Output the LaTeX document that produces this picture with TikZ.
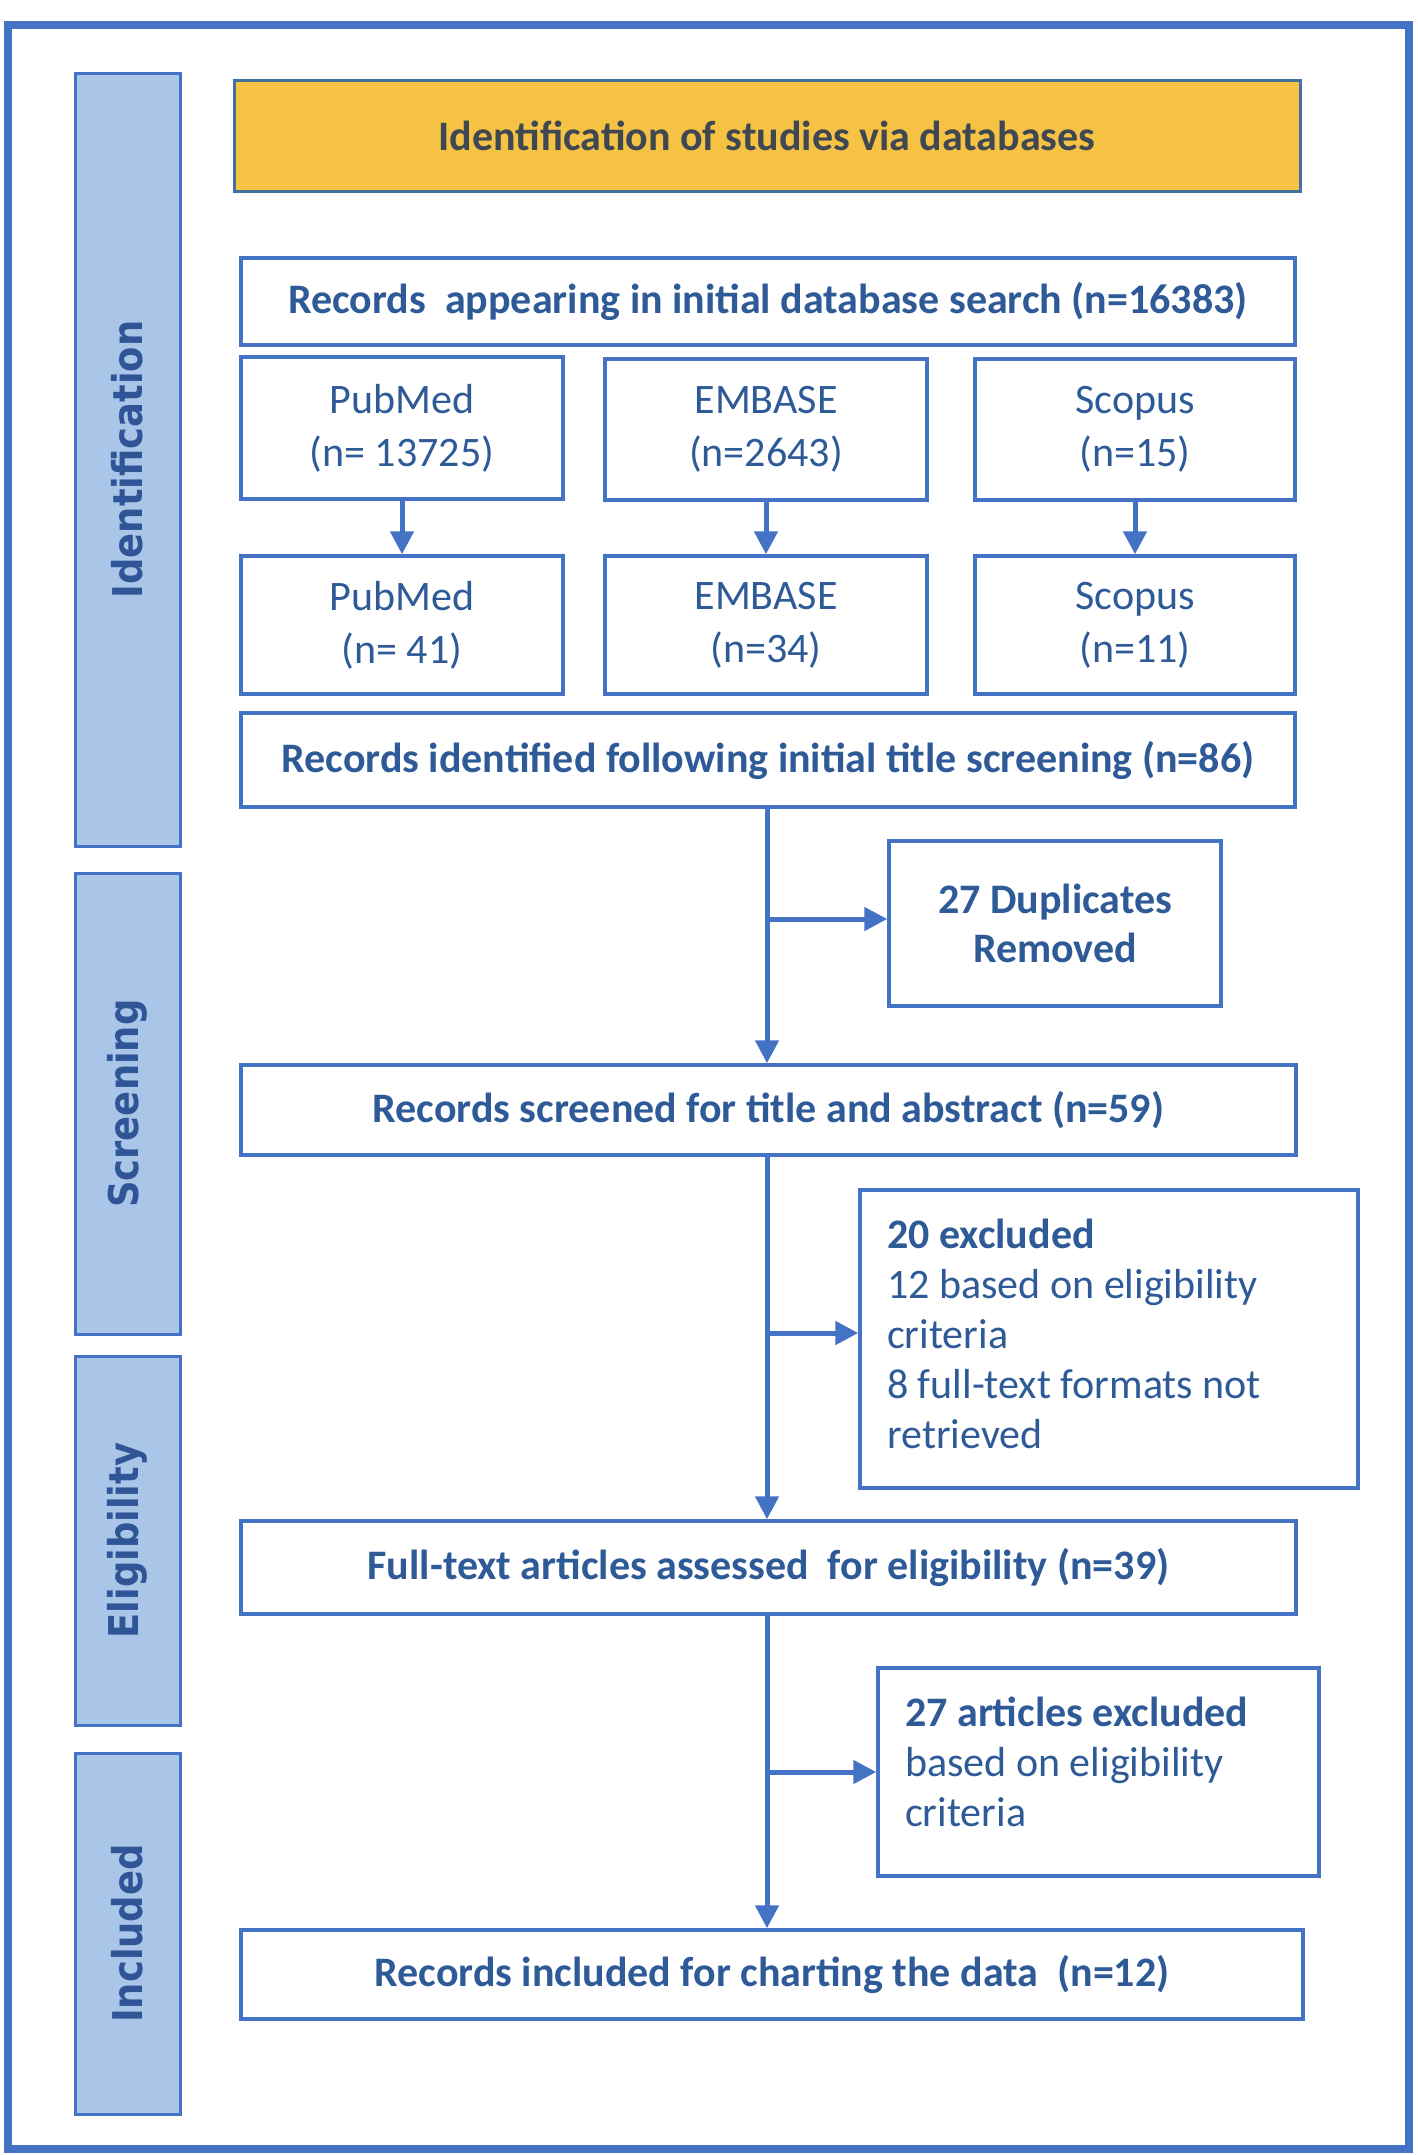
\documentclass[tikz,border=0pt]{standalone}
\usepackage{fontspec}
\setmainfont{Carlito}
\newfontfamily\bandfont{DejaVu Sans}
\usetikzlibrary{arrows.meta}
\definecolor{framecol}{HTML}{4472C4}
\definecolor{boxcol}{HTML}{4472C4}
\definecolor{bandfill}{HTML}{A9C5E8}
\definecolor{bandtext}{HTML}{2F5597}
\definecolor{txt}{HTML}{2E5A98}
\definecolor{titletext}{HTML}{3F4752}
\definecolor{titlefill}{HTML}{F5C243}
\definecolor{titleborder}{HTML}{41719C}
\begin{document}
\begin{tikzpicture}[x=1pt,y=-1pt,
  box/.style={draw=boxcol, line width=3.5pt, fill=white, inner sep=0pt, align=center, text=txt},
  bold/.style={font=\bfseries\fontsize{42}{50}\selectfont},
  reg/.style={font=\fontsize{42}{53}\selectfont},
  band/.style={draw=boxcol, line width=3pt, fill=bandfill, inner sep=0pt},
  bandlabel/.style={rotate=90, text=bandtext, inner sep=0pt, font=\bandfont\bfseries\fontsize{41}{48}\selectfont},
  arr/.style={draw=boxcol, line width=5pt, -{Triangle[length=23pt,width=23pt]}},
  txtl/.style={text=txt, align=left, inner sep=0pt, anchor=west}
]
\useasboundingbox (0,0) rectangle (1417,2155);
\fill[white] (0,0) rectangle (1417,2155);
\draw[framecol, line width=8pt] (8,24.5) rectangle (1409,2149);

% bands
\node[band, minimum width=105pt, minimum height=773pt] (bId) at (127.5,459.5) {};
\node[band, minimum width=105pt, minimum height=461pt] (bSc) at (127.5,1103.5) {};
\node[band, minimum width=105pt, minimum height=369pt] (bEl) at (127.5,1540.5) {};
\node[band, minimum width=105pt, minimum height=361pt] (bIn) at (127.5,1933.5) {};
\node[bandlabel] (lId) at (bId.center) {\scalebox{0.9}[1]{Identification}};
\node[bandlabel] (lSc) at (bSc.center) {\scalebox{0.9}[1]{Screening}};
\node[bandlabel] (lEl) at (bEl.center) {\scalebox{0.9}[1]{Eligibility}};
\node[bandlabel] (lIn) at (bIn.center) {\scalebox{0.9}[1]{Included}};

% title
\node[draw=titleborder, line width=3pt, fill=titlefill, text=titletext, inner sep=0pt,
  minimum width=1066pt, minimum height=111pt, font=\bfseries\fontsize{42}{50}\selectfont]
  (title) at (767,135.5) {Identification of studies via databases};

% identification
\node[box, bold, minimum width=1054pt, minimum height=87pt] (rec) at (768,301.5)
  {Records\ \ appearing in initial database search (n=16383)};
\node[box, reg, minimum width=322pt, minimum height=142pt] (pub1) at (402,428) {PubMed\\(n= 13725)};
\node[box, reg, minimum width=322pt, minimum height=141pt] (emb1) at (766,429.5) {EMBASE\\(n=2643)};
\node[box, reg, minimum width=320pt, minimum height=141pt] (sco1) at (1135,429.5) {Scopus\\(n=15)};
\node[box, reg, minimum width=322pt, minimum height=138pt] (pub2) at (402,625) {PubMed\\(n= 41)};
\node[box, reg, minimum width=322pt, minimum height=138pt] (emb2) at (766,625) {EMBASE\\(n=34)};
\node[box, reg, minimum width=320pt, minimum height=138pt] (sco2) at (1135,625) {Scopus\\(n=11)};
\draw[arr] (pub1) -- (pub2);
\draw[arr] (emb1) -- (emb2);
\draw[arr] (sco1) -- (sco2);
\node[box, bold, minimum width=1054pt, minimum height=94pt] (ident) at (768,760)
  {Records identified following initial title screening (n=86)};

% screening
\node[box, font=\bfseries\fontsize{42}{49}\selectfont, minimum width=332pt, minimum height=165pt] (dup) at (1055,923.5)
  {27 Duplicates\\Removed};
\node[box, bold, minimum width=1055pt, minimum height=90pt] (screened) at (768.5,1110)
  {Records screened for title and abstract (n=59)};
\node[box, minimum width=498pt, minimum height=298pt] (ex20) at (1109,1339) {};
\node[txtl, font=\fontsize{42}{50}\selectfont] (t20) at (887,1334)
  {\textbf{20 excluded}\\12 based on eligibility\\criteria\\8 full-text formats not\\retrieved};

% eligibility
\node[box, bold, minimum width=1055pt, minimum height=93pt] (full) at (768.5,1567.5)
  {Full-text articles assessed\ \ for eligibility (n=39)};
\node[box, minimum width=441pt, minimum height=208pt] (ex27) at (1098.5,1772) {};
\node[txtl, font=\fontsize{42}{50}\selectfont] (t27) at (905,1762)
  {\textbf{27 articles excluded}\\based on eligibility\\criteria};

% included
\node[box, bold, minimum width=1062pt, minimum height=89pt] (incl) at (772,1974.5)
  {Records included for charting the data\ \ (n=12)};

% main flow
\coordinate (mx) at (767,0);
\coordinate (j1) at (767,919);
\coordinate (j2) at (767,1333);
\coordinate (j3) at (767,1772);
\draw[arr] (ident.south -| mx) -- (screened.north -| mx);
\draw[arr] (j1) -- (j1 -| dup.west);
\draw[arr] (screened.south -| mx) -- (full.north -| mx);
\draw[arr] (j2) -- (j2 -| ex20.west);
\draw[arr] (full.south -| mx) -- (incl.north -| mx);
\draw[arr] (j3) -- (j3 -| ex27.west);
\end{tikzpicture}
\end{document}
